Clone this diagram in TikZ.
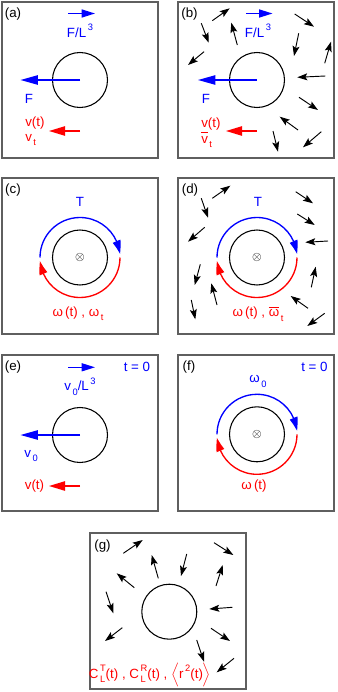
\documentclass[tikz,border=0pt]{standalone}
\usepackage{amsmath}
\usepackage{fontspec}
\setmainfont{Liberation Sans}
\usepackage{tikz}
\usetikzlibrary{arrows.meta,bending}
\definecolor{forceblue}{RGB}{0,0,255}
\definecolor{respred}{RGB}{255,0,0}
\definecolor{framegray}{RGB}{95,95,95}
\newcommand{\lowtx}[1]{\raisebox{-0.6ex}{\scriptsize\,#1}}
\newcommand{\uptx}[1]{\raisebox{0.95ex}{\scriptsize\,#1}}
\tikzset{
  panelbox/.style={rectangle,draw=framegray,line width=0.9pt,minimum width=117pt,minimum height=117pt,inner sep=0pt},
  particle/.style={circle,draw=black,line width=0.8pt,minimum size=41.25pt,inner sep=0pt},
  spin/.style={font=\small,inner sep=0pt},
  tag/.style={font=\fontsize{10}{12}\selectfont,inner sep=0pt},
  forcetxt/.style={font=\fontsize{10}{12}\selectfont,text=forceblue,inner sep=0pt},
  resptxt/.style={font=\fontsize{10}{12}\selectfont,text=respred,inner sep=0pt},
  densarr/.style={-{Triangle[length=10pt,width=6pt]},line width=1pt,color=forceblue},
  forcearr/.style={-{Triangle[length=13pt,width=7pt]},line width=1pt,color=forceblue},
  resparr/.style={-{Triangle[length=12pt,width=7pt]},line width=1pt,color=respred},
  torqarr/.style={-{Triangle[length=10pt,width=6pt,bend]},line width=1pt,color=forceblue},
  spinarr/.style={-{Triangle[length=10pt,width=6pt,bend]},line width=1pt,color=respred},
  flowarr/.style={-{Stealth[length=7.5pt,width=5.2pt,inset=1.5pt]},line width=0.7pt,color=black}
}
\begin{document}
\begin{tikzpicture}[x=0.75pt,y=-0.75pt]
  \useasboundingbox (0,0) rectangle (338,692);

  %% (a) translation, no flow
  \begin{scope}[shift={(2,2)}]
    \node[panelbox] (boxA) at (78,78) {};
    \node[tag] (tagA) at (11,12) {(a)};
    \node[particle] (circA) at (78,78) {};
    \coordinate (densA) at (66,11.5);
    \draw[densarr] (densA) -- ++(27,0);
    \node[forcetxt] (fdA) at (78,29) {F/L\uptx{3}};
    \draw[forcearr] (circA.center) -- ++(-59.5,0);
    \node[forcetxt] (fA) at (27,97) {F};
    \node[resptxt,anchor=west] (vA) at (23,121) {v(t)};
    \node[resptxt,anchor=west] (vtA) at (23,138) {v\lowtx{t}};
    \coordinate (respA) at (78,129);
    \draw[resparr] (respA) -- ++(-31,0);
  \end{scope}

  %% (b) translation, with flow
  \begin{scope}[shift={(178,2)}]
    \node[panelbox] (boxB) at (78,78) {};
    \node[tag] (tagB) at (11.5,12) {(b)};
    \node[particle] (circB) at (79,78) {};
    \coordinate (densB) at (68,11.5);
    \draw[densarr] (densB) -- ++(26.5,0);
    \node[forcetxt] (fdB) at (80,29) {F/L\uptx{3}};
    \draw[forcearr] (circB.center) -- ++(-59,0);
    \node[forcetxt] (fB) at (28,97) {F};
    \node[resptxt,anchor=west] (vB) at (23,122) {v(t)};
    \node[resptxt,anchor=west] (vtB) at (23,138) {$\overline{\mbox{v}\vphantom{T}}$\lowtx{t}};
    \coordinate (respB) at (79,129);
    \draw[resparr] (respB) -- ++(-31,0);
    %% flow field
    \draw[flowarr] (34.3,18.7) -- (51.7,6.3);
    \draw[flowarr] (23.3,21.3) -- (30.7,40.7);
    \draw[flowarr] (59.3,43) -- (53.3,20.7);
    \draw[flowarr] (26,49.7) -- (10,63);
    \draw[flowarr] (116.7,12) -- (136,24.7);
    \draw[flowarr] (120.7,31.3) -- (116,54);
    \draw[flowarr] (146.7,61.3) -- (153,39.7);
    \draw[flowarr] (147.3,74) -- (119.3,75.3);
    \draw[flowarr] (121,95.3) -- (140,108);
    \draw[flowarr] (120,128) -- (101.7,114.7);
    \draw[flowarr] (95,129) -- (100,149.7);
    \draw[flowarr] (143.3,129.7) -- (125,145.3);
  \end{scope}

  %% (c) rotation, no flow
  \begin{scope}[shift={(2,178)}]
    \node[panelbox] (boxC) at (78,78) {};
    \node[tag] (tagC) at (11,12.5) {(c)};
    \node[particle] (circC) at (78,79.5) {};
    \node[spin] (axisC) at (circC.center) {$\otimes$};
    \draw[torqarr] (circC.center) ++(180:40) arc[start angle=180,end angle=355,radius=40];
    \draw[spinarr] (circC.center) ++(0:40) arc[start angle=0,end angle=175,radius=40];
    \node[forcetxt] (tqC) at (78,23.5) {T};
    \node[resptxt] (omC) at (76,136) {ω\,(t) , ω\lowtx{t}};
  \end{scope}

  %% (d) rotation, with flow
  \begin{scope}[shift={(178,178)}]
    \node[panelbox] (boxD) at (78,78) {};
    \node[tag] (tagD) at (12,12.5) {(d)};
    \node[particle] (circD) at (79,79.5) {};
    \node[spin] (axisD) at (circD.center) {$\otimes$};
    \draw[torqarr] (circD.center) ++(180:40) arc[start angle=180,end angle=355,radius=40];
    \draw[spinarr] (circD.center) ++(0:40) arc[start angle=0,end angle=175,radius=40];
    \node[forcetxt] (tqD) at (80,23.5) {T};
    \node[resptxt] (omD) at (80,136) {ω\,(t) , $\overline{\mbox{ω}\vphantom{a}}$\lowtx{t}};
    %% flow field
    \draw[flowarr] (34.3,20.3) -- (52.3,7.7);
    \draw[flowarr] (23.3,20.3) -- (30,39.7);
    \draw[flowarr] (26.7,49.3) -- (10,63.7);
    \draw[flowarr] (117.7,13.7) -- (135,25.3);
    \draw[flowarr] (119.3,36) -- (136.7,47);
    \draw[flowarr] (150,63) -- (127.3,64.3);
    \draw[flowarr] (133.3,109.3) -- (137.7,88.7);
    \draw[flowarr] (22.3,86.3) -- (16.7,107);
    \draw[flowarr] (39,127) -- (33.3,105.3);
    \draw[flowarr] (13.3,122) -- (17.3,141.3);
    \draw[flowarr] (130,130.3) -- (112.7,118);
    \draw[flowarr] (146.7,135.3) -- (129.3,148);
  \end{scope}

  %% (e) translation, initial velocity
  \begin{scope}[shift={(2,355)}]
    \node[panelbox] (boxE) at (78,78) {};
    \node[tag] (tagE) at (11,12) {(e)};
    \node[forcetxt] (timeE) at (135,12.3) {t = 0};
    \node[particle] (circE) at (78,80) {};
    \coordinate (densE) at (66,12.3);
    \draw[densarr] (densE) -- ++(27,0);
    \node[forcetxt] (vdE) at (78,31.5) {v\lowtx{0}/L\uptx{3}};
    \draw[forcearr] (circE.center) -- ++(-59.5,0);
    \node[forcetxt] (vzE) at (29,101) {v\lowtx{0}};
    \node[resptxt] (vE) at (32.5,131) {v(t)};
    \coordinate (respE) at (78,131);
    \draw[resparr] (respE) -- ++(-31,0);
  \end{scope}

  %% (f) rotation, initial spin
  \begin{scope}[shift={(178,355)}]
    \node[panelbox] (boxF) at (78,78) {};
    \node[tag] (tagF) at (11,12) {(f)};
    \node[forcetxt] (timeF) at (136.5,12.3) {t = 0};
    \node[particle] (circF) at (79,79.3) {};
    \node[spin] (axisF) at (circF.center) {$\otimes$};
    \draw[torqarr] (circF.center) ++(180:40) arc[start angle=180,end angle=355,radius=40];
    \draw[spinarr] (circF.center) ++(0:40) arc[start angle=0,end angle=175,radius=40];
    \node[forcetxt] (omzF) at (80,26.5) {ω\lowtx{0}};
    \node[resptxt] (omF) at (76,131.5) {ω\,(t)};
  \end{scope}

  %% (g) free particle in flow
  \begin{scope}[shift={(90,533)}]
    \node[panelbox] (boxG) at (78,78) {};
    \node[tag] (tagG) at (12.5,13) {(g)};
    \node[particle] (circG) at (79.3,78.7) {};
    \node[resptxt] (corrG) at (60,142)
      {C\rlap{\lowtx{L}}\uptx{T}(t) , C\rlap{\lowtx{L}}\uptx{R}(t) , $\left\langle\mbox{r\uptx{2}(t)}\right\rangle$};
    %% flow field
    \draw[flowarr] (33.3,20.3) -- (52.7,7);
    \draw[flowarr] (124,9.7) -- (143.3,22);
    \draw[flowarr] (68.3,45.3) -- (61.7,22);
    \draw[flowarr] (96.7,21) -- (91,43);
    \draw[flowarr] (44.3,54.7) -- (26.7,40.3);
    \draw[flowarr] (126,53) -- (132.7,32);
    \draw[flowarr] (16,58.7) -- (23.3,80.3);
    \draw[flowarr] (142.3,74.3) -- (119.3,76);
    \draw[flowarr] (32.3,94.7) -- (15,108);
    \draw[flowarr] (121,95.3) -- (140,108);
    \draw[flowarr] (106.7,107) -- (114,128.7);
    \draw[flowarr] (144,125.3) -- (126.7,139.3);
  \end{scope}
\end{tikzpicture}
\end{document}
